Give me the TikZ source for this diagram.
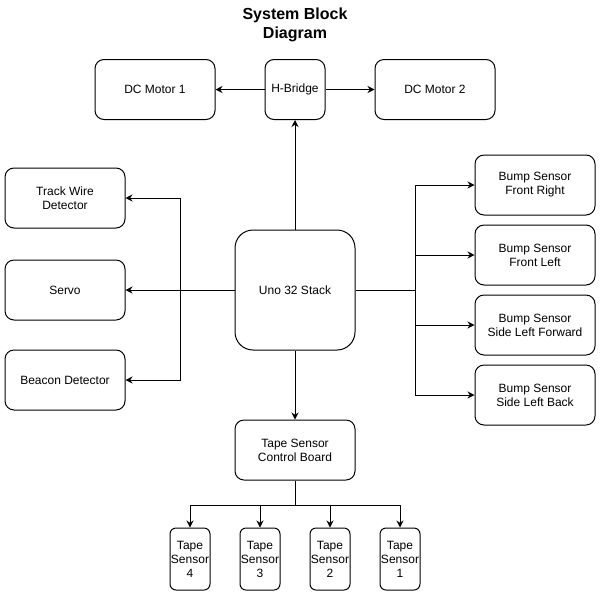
\documentclass[tikz,border=0pt]{standalone}
\usepackage{fontspec}
\setmainfont{Liberation Sans}
\usetikzlibrary{arrows.meta}
\usetikzlibrary{positioning}
\tikzset{
    block/.style={
           draw, line width=1pt,
           rounded corners=9pt,
           minimum width=120pt, minimum height=60pt,
           inner sep=1pt,
           align=center,
           font=\fontsize{12}{14}\selectfont,
           },
}
\tikzset{
    hub/.style={block, minimum height=120pt, rounded corners=18pt},
    bridge/.style={block, minimum width=60pt},
    tape/.style={block, minimum width=40pt, minimum height=62pt,
           rounded corners=6pt, inner sep=0pt},
    link/.style={line width=1pt, -{Stealth[length=7pt,width=7pt]}},
    wire/.style={line width=1pt},
}

\begin{document}
\begin{tikzpicture}[x=1pt,y=-1pt]
\useasboundingbox (0,0) rectangle (601,595);
\node[align=center,font=\fontsize{16}{19}\selectfont\bfseries](title) at (295,25){System Block\\Diagram};
% top row
\node[bridge](hbridge) at (295,89.5){H-Bridge};
\node[block,left=49pt of hbridge](motor1){DC Motor 1};
\node[block,right=49pt of hbridge](motor2){DC Motor 2};
% centre
\node[hub](uno) at (295,290){Uno 32 Stack};
\node[block](track) at (65,198){Track Wire\\Detector};
\node[block](servo) at (65,290){Servo};
\node[block](beacon) at (65,380){Beacon Detector};
\node[block](bfr) at (535,185){Bump Sensor\\Front Right};
\node[block,below=9pt of bfr](bfl){Bump Sensor\\Front Left};
\node[block,below=9pt of bfl](bslf){Bump Sensor\\Side Left Forward};
\node[block,below=9pt of bslf](bslb){Bump Sensor\\Side Left Back};
% bottom
\node[block](board) at (295,450){Tape Sensor\\Control Board};
\node[tape](t4) at (190,559){Tape\\Sensor\\4};
\node[tape,right=29pt of t4](t3){Tape\\Sensor\\3};
\node[tape,right=29pt of t3](t2){Tape\\Sensor\\2};
\node[tape,right=29pt of t2](t1){Tape\\Sensor\\1};
\coordinate (lbus) at (180,290);
\coordinate (rbus) at (415,290);
\coordinate (tbus) at (295,505);
% connectors
\draw[link] (uno) -- (hbridge);
\draw[link] (hbridge) -- (motor1);
\draw[link] (hbridge) -- (motor2);
\draw[link] (uno) -- (servo);
\draw[link] (lbus) |- (track);
\draw[link] (lbus) |- (beacon);
\draw[wire] (uno) -- (rbus);
\draw[link] (rbus) |- (bfr);
\draw[link] (rbus) |- (bfl);
\draw[link] (rbus) |- (bslf);
\draw[link] (rbus) |- (bslb);
\draw[link] (uno) -- (board);
\draw[wire] (board) -- (tbus);
\draw[link] (tbus) -| (t4);
\draw[link] (tbus) -| (t3);
\draw[link] (tbus) -| (t2);
\draw[link] (tbus) -| (t1);
\end{tikzpicture}
\end{document}
